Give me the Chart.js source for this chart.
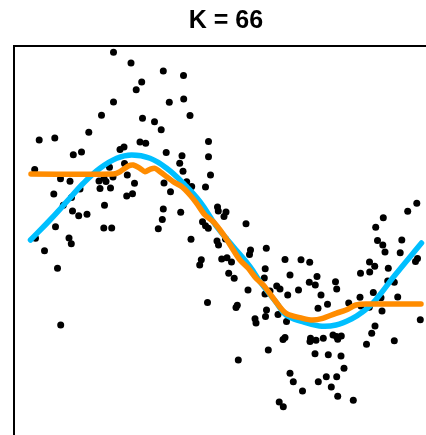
<!DOCTYPE html>
<html>
<head>
<meta charset="utf-8">
<script src="https://cdn.jsdelivr.net/npm/chart.js@4"></script>
<style>
  html, body { margin: 0; padding: 0; background: #fff; }
  #wrap { width: 426px; height: 435px; }
</style>
</head>
<body>
<div id="wrap"><canvas id="c" width="426" height="435"></canvas></div>
<script>
// Observed sample points
const pointX = [99.5,117,149.3,169.5,127.7,122.2,99.5,155.3,169.7,87.5,176,128.5,140.5,147.2,74.8,25.2,40.8,126,131.7,194.5,
  110,106,59.3,67.5,152.2,168,194.5,165.7,95.5,20.7,110.5,169,196.5,99,113.3,46.5,56,85,90,92,
  86,96.5,120.5,150,172.7,177.7,191.5,66,39.8,156.5,112.7,118.5,57.5,49.3,90.5,149.3,203.5,204.3,58.5,64.7,
  73,166.7,212,210,148.3,41.5,89.8,97.7,144.3,188.5,191.5,194.3,232,21.5,55,57.3,177,203,204.5,211.5,
  30.5,236.5,235.5,252.3,207.7,213,217.5,187.3,185.7,271,287,295.7,43.5,251.2,214.7,220.2,250.3,276,303,295.3,
  301.3,321.5,322.7,234,262.7,266,284.5,273.7,307,251,256,346,359.3,367,383.7,193.5,223.3,222,313.5,334.7,
  304,347,355.3,252.5,251.5,264,368,241,242,272.5,406.3,46.7,361,357.7,269,271,296.5,296,302,309.3,
  319,322.5,327.3,323.7,380.3,352.5,254.3,224.3,301,314.3,327,330,276,279.3,312.3,322.7,304.3,317.3,288.5,323.7,
  339.3,265.2,269.3,402.8,393.7,369.3,361.7,363.5,368.8,371,387.8,386.2,355.5,360.7,401.5,403.5,374.3,346.5,355.7,373.7,
  380.3];
const pointY = [382.7,372,364,359.5,353,345.3,333,332.8,336,319.7,319.5,316.7,313.3,305.3,302.8,295,297,293,291.8,293.5,
  288,285.5,280.3,283,282.5,279.3,278.3,271.7,267.7,265.5,271.5,263.7,260,258,260,256.3,253.8,254,256.7,253.5,
  246.5,247,251.7,252,253.3,248.5,248,246,241,243.3,239,241.3,237.5,229.7,229.7,226,228,224,224,219.3,
  220.7,222.8,223,218.5,215.5,208.3,207,207,206.3,213.3,209.3,206.7,211.3,196.7,197,191.2,195.8,194,190,196,
  184.3,185,180.5,186.7,176,177.3,173,175.3,170,175.5,175.3,172.7,166.8,166.2,161.7,156.7,157,160,158.5,152.7,
  150,153.3,146,145,149,146,145,140,140,141,144,137.7,142.5,137.3,138,132.5,129.7,127.5,130.7,132,
  126.7,129,127.7,125,118.5,120.5,124,116.3,112,113.5,115.2,110,109,101.7,95.5,97.5,96.7,93.5,94.7,96.7,
  100,98.5,99,95.7,94.3,90.7,85,75,81.2,80.2,79,66.7,61.7,53.3,58.3,58.3,53.3,48,44,38.7,
  34.8,33,28.3,231.7,223.7,217.3,207.7,194.5,190,183,195,182.3,173,168.8,173.5,176.5,166.7,161.7,163,154,
  152.7];

// True underlying curve (blue)
const trueX = [16.5,36,52.7,69.3,86,102.7,117.7,136,152.7,169.3,186,202.7,219.3,236,246,262.7,272,288.7,305.3,322,338.7,348.7,358.7,380.7,407.5];
const trueY = [195,215,233.3,251.7,266.7,276.7,280,276.7,266.7,251.7,233.3,208.3,188.3,168.3,153.3,132,120,113.3,109,110,116.7,123.3,131.7,159.5,192];

// KNN fit with K = 66 (orange)
const knnX = [17,99.3,106,114.3,119.3,126,131,136,141,146,152.7,159.3,167.7,176,182.7,191,199.3,206,212.7,219.3,226,234.3,242.7,249.3,259.3,272,288.7,298.7,308.7,322,332,342,352,407];
const knnY = [261,261,263.3,269,270,266.7,263.3,265.7,266.7,263.3,258.3,253.3,248.3,240,231.7,220,213.3,205,195.5,185,175,166.7,156,150,136.7,121.7,116.7,115,116.7,121.7,125,130,131,131];

const titleText = 'K = 66';

const toXY = (xs, ys) => xs.map((x, i) => ({ x: x, y: ys[i] }));

new Chart(document.getElementById('c'), {
  type: 'scatter',
  data: {
    datasets: [
      {
        label: 'KNN',
        data: toXY(knnX, knnY),
        showLine: true,
        borderColor: '#FF8C00',
        borderWidth: 5.5,
        borderCapStyle: 'round',
        borderJoinStyle: 'round',
        tension: 0.3,
        pointRadius: 0,
        fill: false,
        clip: false
      },
      {
        label: 'True',
        data: toXY(trueX, trueY),
        showLine: true,
        borderColor: '#00BFFF',
        borderWidth: 5.5,
        borderCapStyle: 'round',
        tension: 0.4,
        pointRadius: 0,
        fill: false,
        clip: false
      },
      {
        label: 'Data',
        data: toXY(pointX, pointY),
        backgroundColor: '#000',
        borderWidth: 0,
        pointRadius: 3.5,
        pointHoverRadius: 3.5
      }
    ]
  },
  options: {
    responsive: false,
    animation: false,
    events: [],
    layout: { autoPadding: false, padding: { left: 14, right: -12, top: 0, bottom: 0 } },
    plugins: {
      legend: { display: false },
      tooltip: { enabled: false },
      title: {
        display: true,
        text: titleText,
        color: '#000',
        font: { family: "'Liberation Sans', Arial, sans-serif", size: 25, weight: 'bold', lineHeight: 1.2 },
        padding: { top: 6, bottom: 10 }
      }
    },
    scales: {
      x: {
        type: 'linear',
        position: 'top',
        min: 0,
        max: 412,
        ticks: { display: false },
        grid: { display: false, drawTicks: false },
        border: { display: true, color: '#000', width: 2 }
      },
      y: {
        type: 'linear',
        position: 'left',
        min: 0,
        max: 389,
        ticks: { display: false },
        grid: { display: false, drawTicks: false },
        border: { display: true, color: '#000', width: 2 }
      }
    }
  }
});
</script>
</body>
</html>
